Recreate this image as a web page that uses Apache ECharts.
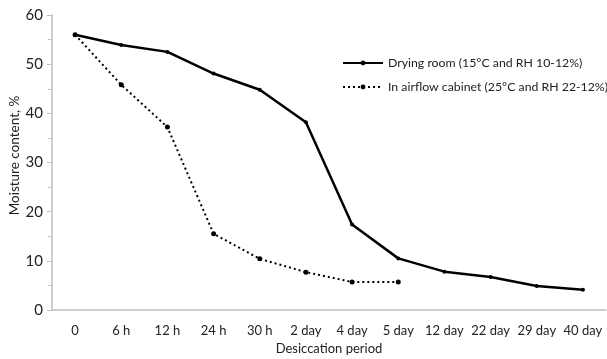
<!DOCTYPE html>
<html><head><meta charset="utf-8">
<script src="https://cdn.jsdelivr.net/npm/echarts@6/dist/echarts.min.js"></script>
<style>html,body{margin:0;padding:0;background:#fff}#c{width:607px;height:359px}</style>
</head><body><div id="c"></div>
<script>
const categories = ['0','6 h','12 h','24 h','30 h','2 day','4 day','5 day','12 day','22 day','29 day','40 day'];
const dryingRoom = [56, 53.9, 52.5, 48.1, 44.8, 38.2, 17.4, 10.5, 7.8, 6.7, 4.9, 4.1];
const airflowCabinet = [56, 45.8, 37.2, 15.5, 10.4, 7.7, 5.7, 5.7, null, null, null, null];
const yTicks = [0, 10, 20, 30, 40, 50, 60];
const seriesNames = ['Drying room (15°C and RH 10-12%)', 'In airflow cabinet (25°C and RH 22-12%)'];

const font = 'Lato, "Open Sans", sans-serif';
const chart = echarts.init(document.getElementById('c'));
chart.setOption({
  animation: false,
  textStyle: {fontFamily: font},
  grid: {left: 52, right: 1, top: 15, bottom: 49, containLabel: false, outerBoundsMode: 'none'},
  legend: {
    orient: 'vertical', left: 332, top: 52, itemWidth: 40, itemHeight: 6, itemGap: 12,
    padding: [5, 0, 5, 10],
    textStyle: {fontFamily: font, fontSize: 12.3, color: '#222'},
    data: seriesNames
  },
  xAxis: {
    type: 'category', data: categories,
    name: 'Desiccation period', nameLocation: 'middle', nameGap: 32,
    nameTextStyle: {fontFamily: font, fontSize: 13, color: '#222'},
    axisLine: {lineStyle: {color: '#bfbfbf', width: 1.5}},
    axisTick: {alignWithLabel: true, length: 5, lineStyle: {color: '#bfbfbf'}},
    axisLabel: {fontFamily: font, fontSize: 13, color: '#222', margin: 14, interval: 0}
  },
  yAxis: {
    type: 'value', min: yTicks[0], max: yTicks[yTicks.length - 1], interval: 10,
    name: 'Moisture content, %', nameLocation: 'middle', nameGap: 30, nameRotate: 90,
    nameMoveOverlap: false,
    nameTextStyle: {fontFamily: font, fontSize: 13.5, color: '#222', padding: [0, 0, 0, 14]},
    axisLine: {show: true, lineStyle: {color: '#bfbfbf', width: 1.5}},
    axisTick: {show: true, length: 5, lineStyle: {color: '#bfbfbf'}},
    minorTick: {show: true, splitNumber: 2, length: 4, lineStyle: {color: '#bfbfbf'}},
    splitLine: {show: false},
    axisLabel: {fontFamily: font, fontSize: 15, color: '#222', margin: 9}
  },
  series: [
    {
      name: seriesNames[0], type: 'line', data: dryingRoom,
      symbol: 'circle', symbolSize: 4,
      lineStyle: {color: '#000', width: 2.5},
      itemStyle: {color: '#000'}
    },
    {
      name: seriesNames[1], type: 'line', data: airflowCabinet,
      symbol: 'circle', symbolSize: 5,
      lineStyle: {color: '#000', width: 2, type: [2, 3]},
      itemStyle: {color: '#000'}
    }
  ]
});
</script></body></html>
